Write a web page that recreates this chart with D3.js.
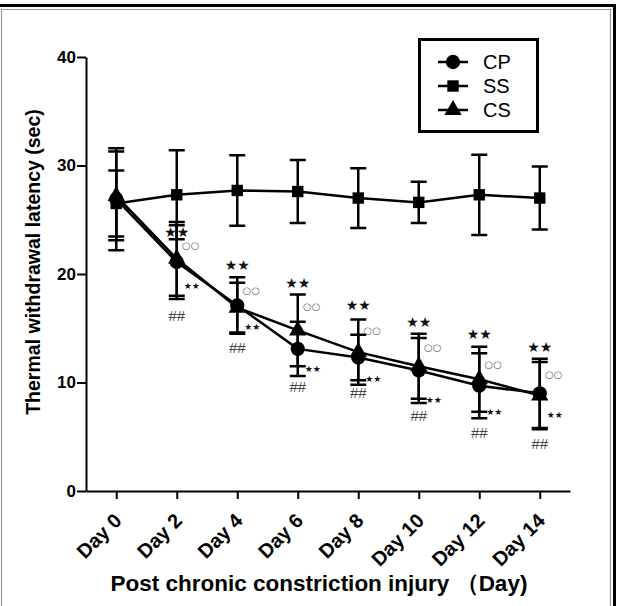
<!DOCTYPE html>
<html>
<head>
<meta charset="utf-8">
<script src="https://cdn.jsdelivr.net/npm/d3@7"></script>
<style>
  body { margin: 0; background: #fff; }
  svg text { font-family: 'Liberation Sans', Arial, sans-serif; }
</style>
</head>
<body>
<div id="chart"></div>
<script>
const days = ['Day 0', 'Day 2', 'Day 4', 'Day 6', 'Day 8', 'Day 10', 'Day 12', 'Day 14']
const yTicks = [0, 10, 20, 30, 40]

// means and error (SD) per group
const cpMean = [26.9, 21.1, 17.1, 13.1, 12.3, 11.1, 9.7, 9.0]
const cpErr = [4.7, 3.4, 2.6, 2.5, 2.1, 3.0, 3.0, 3.2]
const ssMean = [26.5, 27.3, 27.7, 27.6, 27.0, 26.6, 27.3, 27.0]
const ssErr = [3.05, 4.1, 3.25, 2.9, 2.75, 1.9, 3.7, 2.9]
const csMean = [27.2, 21.4, 16.9, 14.8, 12.8, 11.5, 10.3, 8.8]
const csErr = [4.1, 3.4, 2.3, 3.3, 3.0, 3.0, 3.0, 3.1]

// significance marks (y level in sec), from Day 2 onwards
const markDays = ['Day 2', 'Day 4', 'Day 6', 'Day 8', 'Day 10', 'Day 12', 'Day 14']
const starTop = [23.9, 20.8, 19.2, 17.1, 15.6, 14.5, 13.3]
const ringMark = [22.6, 18.5, 17.0, 14.8, 13.2, 11.7, 10.7]
const starLow = [18.9, 15.1, 11.2, 10.3, 8.4, 7.3, 7.0]
const hashMark = [16.2, 13.2, 9.6, 9.1, 7.0, 5.4, 4.4]

const svg = d3.select('#chart')
  .append('svg')
  .attr('width', 626)
  .attr('height', 606)

/* frame */
svg.append('line').attr('x1', 0).attr('x2', 616).attr('y1', 5.5).attr('y2', 5.5)
  .attr('stroke', '#000').attr('stroke-width', 3)
svg.append('line').attr('x1', 614.5).attr('x2', 614.5).attr('y1', 4).attr('y2', 606)
  .attr('stroke', '#000').attr('stroke-width', 3)
svg.append('path').attr('d', 'M1.5,606 V9.5 H610.5 V606')
  .attr('fill', 'none').attr('stroke', '#999').attr('stroke-width', 1.2)

const x = d3.scalePoint().domain(days).range([86, 570]).padding(0.5)
const y = d3.scaleLinear().domain([0, 40]).range([491, 57])

/* axes */
const yAxis = d3.axisLeft(y).tickValues(yTicks).tickSize(9).tickSizeOuter(0).tickPadding(1)
const gy = svg.append('g')
  .attr('transform', 'translate(86,0)')
  .call(yAxis)
gy.selectAll('text').style('font-size', '17px').style('font-weight', 'bold').attr('fill', '#000')

const xAxis = d3.axisBottom(x).tickSize(8).tickSizeOuter(0)
const gx = svg.append('g')
  .attr('transform', 'translate(0,491)')
  .call(xAxis)
gx.selectAll('text')
  .style('font-size', '20px').style('font-weight', 'bold').attr('fill', '#000')
  .attr('text-anchor', 'end')
  .attr('dy', 0)
  .attr('y', 0)
  .attr('transform', 'translate(6,31) rotate(-45)')

svg.selectAll('.domain, .tick line').attr('stroke', '#000').attr('stroke-width', 2)

svg.append('text')
  .attr('transform', 'translate(40,262) rotate(-90)')
  .attr('text-anchor', 'middle')
  .style('font-size', '19.5px').style('font-weight', 'bold')
  .text('Thermal withdrawal latency (sec)')

svg.append('text')
  .attr('x', 319).attr('y', 591)
  .attr('text-anchor', 'middle')
  .style('font-size', '22.5px').style('font-weight', 'bold')
  .text('Post chronic constriction injury （Day)')

/* series */
const groups = [
  { name: 'SS', mean: ssMean, err: ssErr, sym: d3.symbolSquare, size: 130 },
  { name: 'CS', mean: csMean, err: csErr, sym: d3.symbolTriangle, size: 130 },
  { name: 'CP', mean: cpMean, err: cpErr, sym: d3.symbolCircle, size: 160 }
]

const line = d3.line().x(d => x(d.day)).y(d => y(d.v))

groups.forEach(g => {
  const pts = days.map((day, i) => ({ day: day, v: g.mean[i], e: g.err[i] }))
  const grp = svg.append('g')

  grp.append('path')
    .datum(pts)
    .attr('d', line)
    .attr('fill', 'none')
    .attr('stroke', '#000')
    .attr('stroke-width', 2.5)

  grp.selectAll('.eb')
    .data(pts)
    .enter()
    .append('path')
    .attr('d', d => {
      const cx = x(d.day), top = y(d.v + d.e), bot = y(d.v - d.e)
      return 'M' + cx + ',' + top + 'V' + bot +
        'M' + (cx - 8) + ',' + top + 'H' + (cx + 8) +
        'M' + (cx - 8) + ',' + bot + 'H' + (cx + 8)
    })
    .attr('fill', 'none')
    .attr('stroke', '#000')
    .attr('stroke-width', 2.5)

  grp.selectAll('.pt')
    .data(pts)
    .enter()
    .append('path')
    .attr('d', d3.symbol().type(g.sym).size(g.size))
    .attr('transform', d => 'translate(' + x(d.day) + ',' + y(d.v) + ')')
    .attr('fill', '#000')
})

/* significance marks */
const marks = markDays.map((day, i) => ({
  day: day, a: starTop[i], b: ringMark[i], c: starLow[i], d: hashMark[i]
}))

const mg = svg.append('g').attr('dominant-baseline', 'central')
mg.selectAll('.st').data(marks).enter().append('text')
  .attr('x', d => x(d.day)).attr('y', d => y(d.a))
  .attr('text-anchor', 'middle')
  .style('font-family', 'DejaVu Sans').style('font-size', '14px')
  .attr('fill', '#111')
  .text('★★')
mg.selectAll('.rg').data(marks).enter().append('text')
  .attr('x', d => x(d.day) + 14).attr('y', d => y(d.b))
  .attr('text-anchor', 'middle')
  .style('font-family', 'DejaVu Sans').style('font-size', '10px')
  .attr('fill', '#666')
  .text('○○')
mg.selectAll('.sl').data(marks).enter().append('text')
  .attr('x', d => x(d.day) + 15).attr('y', d => y(d.c))
  .attr('text-anchor', 'middle')
  .style('font-family', 'DejaVu Sans').style('font-size', '9px')
  .attr('fill', '#111')
  .text('★★')
mg.selectAll('.hs').data(marks).enter().append('text')
  .attr('x', d => x(d.day)).attr('y', d => y(d.d))
  .attr('text-anchor', 'middle')
  .style('font-size', '15px')
  .attr('fill', '#444')
  .text('##')

/* legend */
const legend = svg.append('g')
legend.append('rect')
  .attr('x', 419.5).attr('y', 39.5).attr('width', 118).attr('height', 92)
  .attr('fill', '#fff').attr('stroke', '#000').attr('stroke-width', 3)

const items = legend.selectAll('.li')
  .data(['CP', 'SS', 'CS'])
  .enter()
  .append('g')
  .attr('transform', (d, i) => 'translate(0,' + [62, 86, 110][i] + ')')

items.append('line')
  .attr('x1', 438).attr('x2', 468)
  .attr('stroke', '#000').attr('stroke-width', 2.5)
items.append('path')
  .attr('d', d => {
    const g = groups.find(s => s.name === d)
    return d3.symbol().type(g.sym).size(g.size)()
  })
  .attr('transform', 'translate(453,0)')
  .attr('fill', '#000')
items.append('text')
  .attr('x', 483).attr('dy', '0.35em')
  .style('font-size', '20px')
  .text(d => d)
</script>
</body>
</html>
